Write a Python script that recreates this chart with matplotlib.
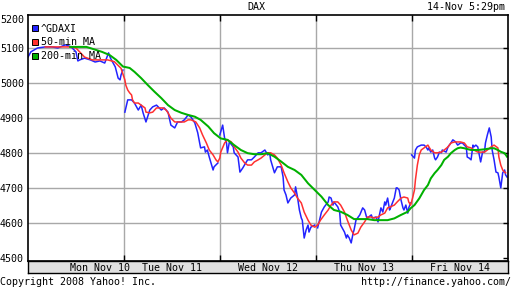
import numpy as np
import matplotlib
matplotlib.use('Agg')
import matplotlib.pyplot as plt
from matplotlib.lines import Line2D

# time axis = trading days since Mon open (0..5), values = index points
gdaxi_t = [0.00, 0.03, 0.10, 0.18, 0.25, 0.31, 0.39, 0.45, 0.50, 0.52, 0.54, 0.59, 0.65, 0.70,
           0.75, 0.80, 0.84, 0.86, 0.91, 0.94, 0.96, 0.97, 0.99,
           1.01, 1.04, 1.08, 1.11, 1.15, 1.18, 1.20, 1.23, 1.27, 1.30, 1.34, 1.39, 1.42, 1.46,
           1.49, 1.53, 1.56, 1.60, 1.63, 1.67, 1.70, 1.74, 1.77, 1.79, 1.80, 1.84, 1.85, 1.87,
           1.89, 1.93, 1.94, 1.98,
           2.00, 2.03, 2.05, 2.07, 2.08, 2.10, 2.14, 2.15, 2.19, 2.21, 2.24, 2.27, 2.29, 2.33,
           2.36, 2.40, 2.43, 2.47, 2.50, 2.52, 2.53, 2.57, 2.60, 2.64, 2.66, 2.67, 2.69, 2.71,
           2.74, 2.78, 2.79, 2.81, 2.83, 2.85, 2.86, 2.88, 2.90, 2.92, 2.93, 2.95, 2.99,
           3.02, 3.04, 3.06, 3.09, 3.13, 3.14, 3.16, 3.18, 3.19, 3.23, 3.25, 3.26, 3.30, 3.32,
           3.33, 3.35, 3.37, 3.39, 3.40, 3.42, 3.46, 3.49, 3.51, 3.53, 3.54, 3.58, 3.59, 3.63,
           3.65, 3.66, 3.68, 3.70, 3.72, 3.73, 3.75, 3.77, 3.78, 3.80, 3.82, 3.84, 3.85, 3.87,
           3.89, 3.91, 3.92, 3.94, 3.96, 3.97, 3.99,
           4.00, 4.03, 4.04, 4.06, 4.10, 4.13, 4.15, 4.17, 4.18, 4.20, 4.22, 4.24, 4.25, 4.27,
           4.29, 4.31, 4.32, 4.36, 4.38, 4.41, 4.43, 4.46, 4.48, 4.51, 4.53, 4.55, 4.57, 4.58,
           4.60, 4.62, 4.64, 4.65, 4.67, 4.69, 4.70, 4.72, 4.74, 4.76, 4.77, 4.79, 4.81, 4.83,
           4.84, 4.86, 4.88, 4.90, 4.91, 4.93, 4.95, 4.97, 4.98, 4.995]
gdaxi_v = [5074, 5089, 5100, 5103, 5103, 5100, 5109, 5103, 5089, 5063, 5066, 5071, 5066, 5060,
           5063, 5057, 5086, 5071, 5046, 5014, 5009, 5023, 5037,
           4917, 4952, 4952, 4943, 4923, 4937, 4915, 4889, 4923, 4932, 4937, 4923, 4929, 4917,
           4880, 4872, 4889, 4889, 4895, 4909, 4903, 4886, 4858, 4829, 4815, 4818, 4803, 4809,
           4789, 4752, 4761, 4772,
           4852, 4880, 4843, 4829, 4801, 4832, 4818, 4801, 4789, 4746, 4758, 4772, 4781, 4781,
           4789, 4801, 4801, 4809, 4795, 4801, 4781, 4744, 4761, 4761, 4732, 4695, 4681, 4658,
           4672, 4681, 4704, 4675, 4638, 4615, 4609, 4558, 4581, 4595, 4575, 4589, 4595,
           4587, 4609, 4632, 4647, 4661, 4675, 4672, 4652, 4661, 4647, 4632, 4595, 4575, 4558,
           4567, 4558, 4544, 4572, 4581, 4609, 4624, 4644, 4638, 4618, 4615, 4624, 4615, 4618,
           4604, 4618, 4644, 4632, 4661, 4652, 4672, 4638, 4644, 4658, 4672, 4701, 4701, 4695,
           4666, 4644, 4638, 4652, 4629, 4644, 4658,
           4795, 4786, 4809, 4818, 4823, 4823, 4818, 4809, 4815, 4803, 4809, 4786, 4781, 4789,
           4803, 4801, 4809, 4803, 4818, 4829, 4838, 4832, 4823, 4829, 4829, 4823, 4818, 4789,
           4786, 4781, 4823, 4818, 4823, 4818, 4803, 4775, 4803, 4803, 4829, 4852, 4872, 4846,
           4809, 4781, 4746, 4744, 4732, 4701, 4744, 4752, 4738, 4732]

ma50_t = [0.18, 0.28, 0.44, 0.50, 0.59, 0.67, 0.75, 0.83, 0.90, 0.97,
          1.01, 1.02, 1.04, 1.06, 1.08, 1.09, 1.11, 1.15, 1.18, 1.22, 1.23, 1.27, 1.30, 1.34,
          1.37, 1.41, 1.44, 1.46, 1.49, 1.53, 1.56, 1.63, 1.67, 1.70, 1.75, 1.79, 1.82, 1.86,
          1.89, 1.93, 1.96, 1.98, 2.00, 2.01, 2.05, 2.08, 2.12, 2.15, 2.19, 2.22, 2.26, 2.29,
          2.33, 2.36, 2.40, 2.43, 2.47, 2.50, 2.53, 2.57, 2.60, 2.64, 2.67, 2.71, 2.74, 2.78,
          2.81, 2.85, 2.88, 2.92, 2.95, 2.99, 3.02, 3.05, 3.09, 3.13, 3.16, 3.19, 3.23, 3.26,
          3.30, 3.33, 3.37, 3.40, 3.44, 3.47, 3.51, 3.54, 3.58, 3.61, 3.65, 3.68, 3.72, 3.75,
          3.78, 3.82, 3.85, 3.89, 3.92, 3.96, 3.97, 3.99, 4.01, 4.03, 4.04, 4.06, 4.08, 4.10,
          4.13, 4.17, 4.20, 4.24, 4.27, 4.31, 4.34, 4.38, 4.41, 4.45, 4.51, 4.55, 4.58, 4.62,
          4.65, 4.69, 4.76, 4.79, 4.83, 4.86, 4.90, 4.91, 4.93, 4.95, 4.97, 4.98]
ma50_v = [5103, 5103, 5103, 5100, 5074, 5066, 5066, 5066, 5061, 5042,
          5009, 4994, 4980, 4972, 4966, 4952, 4943, 4943, 4937, 4929, 4917, 4915, 4917, 4929,
          4929, 4929, 4923, 4915, 4900, 4889, 4889, 4889, 4895, 4895, 4889, 4872, 4852, 4829,
          4809, 4795, 4781, 4775, 4786, 4803, 4829, 4838, 4832, 4818, 4803, 4786, 4772, 4766,
          4766, 4775, 4781, 4786, 4795, 4801, 4801, 4795, 4786, 4766, 4744, 4718, 4701, 4686,
          4672, 4658, 4632, 4609, 4595, 4589, 4595, 4609, 4624, 4638, 4652, 4661, 4661, 4652,
          4632, 4609, 4581, 4567, 4572, 4589, 4604, 4618, 4618, 4615, 4618, 4624, 4629, 4644,
          4647, 4652, 4661, 4672, 4675, 4672, 4661, 4652, 4672, 4695, 4724, 4766, 4795, 4809,
          4815, 4823, 4809, 4801, 4801, 4803, 4809, 4818, 4829, 4832, 4832, 4829, 4818, 4815,
          4809, 4803, 4803, 4809, 4818, 4823, 4815, 4789, 4766, 4752, 4746, 4744]

ma200_t = [0.44, 0.61, 0.77, 0.85, 0.92, 0.99, 1.06, 1.11, 1.18, 1.25, 1.32, 1.39, 1.46,
           1.53, 1.60, 1.67, 1.74, 1.80, 1.88, 1.94, 2.01, 2.08, 2.15, 2.22, 2.29, 2.36, 2.43,
           2.50, 2.57, 2.64, 2.71, 2.78, 2.85, 2.92, 2.99, 3.06, 3.13, 3.19, 3.26, 3.33, 3.40,
           3.47, 3.54, 3.61, 3.68, 3.75, 3.82, 3.89, 3.96, 3.99, 4.03, 4.08, 4.13, 4.17, 4.20,
           4.24, 4.27, 4.31, 4.34, 4.38, 4.41, 4.45, 4.48, 4.51, 4.55, 4.62, 4.69, 4.76, 4.83,
           4.86, 4.90, 4.93, 4.97, 4.995]
ma200_v = [5103, 5103, 5089, 5080, 5066, 5047, 5043, 5032, 5014, 4994, 4975, 4957, 4937,
           4923, 4915, 4909, 4904, 4895, 4876, 4857, 4842, 4838, 4823, 4809, 4800, 4797, 4797,
           4800, 4790, 4776, 4761, 4752, 4738, 4714, 4695, 4676, 4652, 4638, 4633, 4624, 4612,
           4612, 4612, 4609, 4609, 4609, 4614, 4624, 4633, 4643, 4652, 4671, 4695, 4709, 4728,
           4743, 4752, 4766, 4781, 4790, 4800, 4809, 4814, 4816, 4814, 4809, 4809, 4811, 4814,
           4814, 4809, 4804, 4800, 4790]

day_labels = ['Mon Nov 10', 'Tue Nov 11', 'Wed Nov 12', 'Thu Nov 13', 'Fri Nov 14']
day_label_pos = [0.75, 1.5, 2.5, 3.5, 4.5]
y_ticks = [4500, 4600, 4700, 4800, 4900, 5000, 5100]
series_names = ['^GDAXI', '50-min MA', '200-min MA']
colors = ['#2323ff', '#ff3030', '#00b000']

plt.rcParams['font.family'] = 'DejaVu Sans Mono'
plt.rcParams['font.size'] = 7.2

W, H = 512.0, 288.0
fig = plt.figure(figsize=(5.12, 2.88), dpi=100)
ax = fig.add_axes([28 / W, 1 - 261 / H, 479.5 / W, 246 / H])

# price, one piece per trading day (no line joining the close to the next open)
t = np.array(gdaxi_t)
v = np.array(gdaxi_v)
day = np.floor(t)
for d in np.unique(day):
    m = day == d
    ax.plot(t[m], v[m], color=colors[0], lw=1.1)
ax.plot(ma50_t, ma50_v, color=colors[1], lw=1.1)
ax.plot(ma200_t, ma200_v, color=colors[2], lw=1.45)

ax.set_xlim(0, 5)
ax.set_ylim(4492.5, 5194)
ax.set_xticks([1, 2, 3, 4])
ax.set_xticklabels([])
ax.set_yticks(y_ticks)
ax.set_yticklabels([str(y) for y in y_ticks])
ax.tick_params(axis='x', bottom=True, top=True, direction='in', length=4, width=1, color='black')
ax.tick_params(axis='y', left=False, right=True, direction='in', length=3.5, width=1,
               color='black', pad=3)
ax.grid(True, color='#a8a8a8', lw=1.0)
ax.yaxis.get_gridlines()[0].set_visible(False)
ax.set_axisbelow(True)
for s in ax.spines.values():
    s.set_color('black')
    s.set_linewidth(1.2)
ax.text(-0.008, 1.0, '5200', transform=ax.transAxes, ha='right', va='top')

handles = [Line2D([], [], marker='s', ls='none', markersize=4.8, markerfacecolor=c,
                  markeredgecolor='black', markeredgewidth=0.7) for c in colors]
ax.legend(handles, series_names, loc='upper left', bbox_to_anchor=(-0.004, 0.985), frameon=False,
          handlelength=0.7, handletextpad=0.3, labelspacing=0.38, borderaxespad=0.2,
          borderpad=0.3, fontsize=7.2)

# grey date band under the plot
band = fig.add_axes([28 / W, 1 - 273 / H, 479.5 / W, 12 / H], facecolor='#e0e0e0')
band.set_xlim(0, 5)
band.set_ylim(0, 1)
band.set_xticks([])
band.set_yticks([])
for s in band.spines.values():
    s.set_color('black')
    s.set_linewidth(1.0)
for p, lab in zip(day_label_pos, day_labels):
    band.text(p, 0.45, lab, ha='center', va='center')

fig.text(256 / W, 1 - 7 / H, 'DAX', ha='center', va='center')
fig.text(505 / W, 1 - 7 / H, '14-Nov 5:29pm', ha='right', va='center')
fig.text(0, 1 - 282 / H, 'Copyright 2008 Yahoo! Inc.', ha='left', va='center')
fig.text(511 / W, 1 - 282 / H, 'http://finance.yahoo.com/', ha='right', va='center')

fig.savefig('out.png', dpi=100, facecolor='white')
